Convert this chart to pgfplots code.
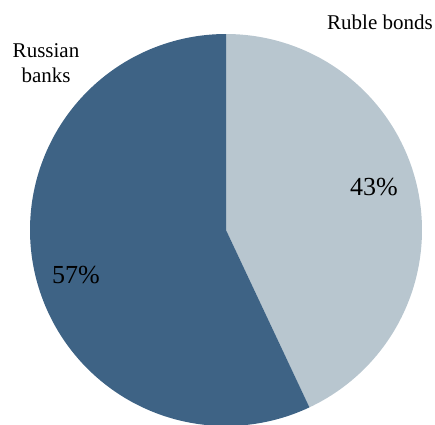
\documentclass[border=0pt]{standalone}
\usepackage{pgfplots}
\pgfplotsset{compat=1.18}
\usepackage{fontspec}
\setmainfont{Liberation Serif}
\definecolor{darkblue}{RGB}{62,99,133}
\definecolor{lightblue}{RGB}{184,198,207}
\begin{document}
\begin{tikzpicture}
\begin{axis}[
  scale only axis, width=435pt, height=424pt,
  xmin=0, xmax=435, ymin=0, ymax=424,
  hide axis,
]
% shares (percent): Ruble bonds 43, Russian banks 57; pie starts at 12 o'clock, clockwise
\addplot[fill=lightblue, draw=none, domain={90-43*3.6}:90, samples=150, variable=\t]
  ({226+196*cos(\t)}, {194+196*sin(\t)}) -- (axis cs:226,194) -- cycle;
\addplot[fill=darkblue, draw=none, domain={90-43*3.6-57*3.6}:{90-43*3.6}, samples=200, variable=\t]
  ({226+196*cos(\t)}, {194+196*sin(\t)}) -- (axis cs:226,194) -- cycle;
\node[font=\fontsize{21}{24}\selectfont] at (axis cs:380,402) {Ruble bonds};
\node[font=\fontsize{21}{25}\selectfont, align=center] at (axis cs:46,361) {Russian\\banks};
\node[font=\fontsize{26}{30}\selectfont] at (axis cs:374,237) {43\%};
\node[font=\fontsize{26}{30}\selectfont] at (axis cs:76,149) {57\%};
\end{axis}
\pgfresetboundingbox
\useasboundingbox (current axis.south west) rectangle (current axis.north east);
\end{tikzpicture}
\end{document}
